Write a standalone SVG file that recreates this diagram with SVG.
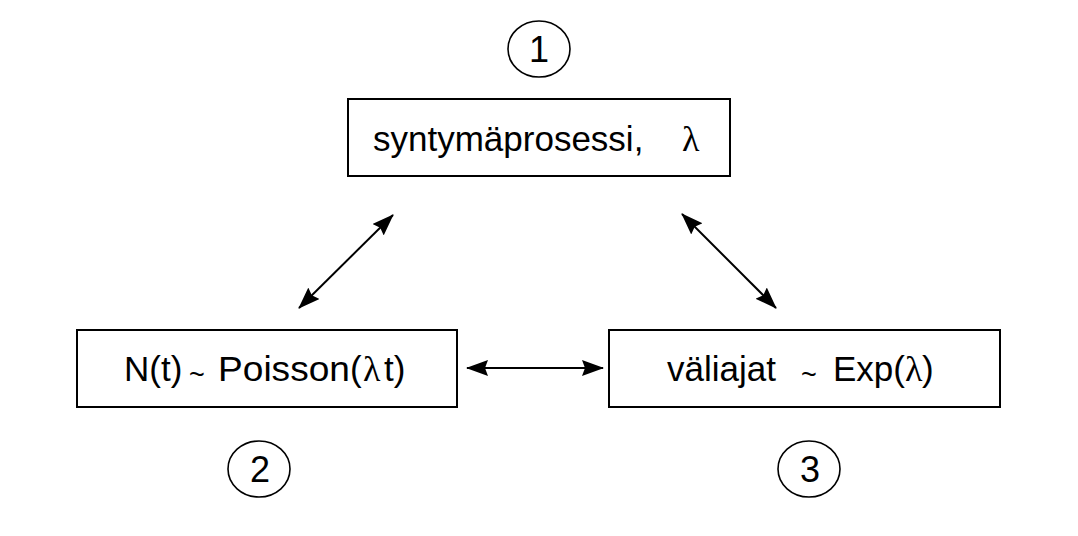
<svg xmlns="http://www.w3.org/2000/svg" width="1078" height="536" viewBox="0 0 1078 536">
<style>
.box{fill:#fff;stroke:#000;stroke-width:2}
.circ{fill:none;stroke:#000;stroke-width:1.6}
.t{font-family:"Liberation Sans",Arial,sans-serif;font-size:35px;fill:#000}
.g{font-family:"Liberation Serif","DejaVu Serif",serif;font-size:36px;fill:#000}
.num{font-family:"Liberation Sans",Arial,sans-serif;font-size:36px;fill:#000;text-anchor:middle}
.til{font-family:"Liberation Sans",Arial,sans-serif;font-size:27px;fill:#000}
.conn{stroke:#000;stroke-width:2;fill:none}
</style>
<defs>
<marker id="ah" viewBox="0 0 22 16" refX="21" refY="8" markerWidth="22" markerHeight="16" markerUnits="userSpaceOnUse" orient="auto-start-reverse">
<path d="M0,0 L22,8 L0,16 L3,8 Z" fill="#000"/>
</marker>
</defs>
<rect width="1078" height="536" fill="#fff"/>
<g id="connectors">
<line class="conn" x1="299" y1="308" x2="393" y2="215" marker-start="url(#ah)" marker-end="url(#ah)"/>
<line class="conn" x1="682" y1="214" x2="776" y2="308" marker-start="url(#ah)" marker-end="url(#ah)"/>
<line class="conn" x1="467" y1="368" x2="603" y2="368" marker-start="url(#ah)" marker-end="url(#ah)"/>
</g>
<g id="node-top">
<rect class="box" x="348" y="99" width="382" height="77"/>
<text class="t" x="373" y="151">syntymäprosessi,</text>
<text class="g" x="682" y="151">λ</text>
</g>
<g id="node-left">
<rect class="box" x="77" y="330" width="380" height="77"/>
<text class="t" x="124" y="381">N(t)</text>
<text class="til" x="189" y="384">~</text>
<text class="t" x="218" y="381" textLength="132" lengthAdjust="spacingAndGlyphs">Poisson</text>
<text class="t" x="350" y="381">(</text>
<text class="g" x="363" y="381">λ</text>
<text class="t" x="384" y="381">t)</text>
</g>
<g id="node-right">
<rect class="box" x="609" y="330" width="391" height="77"/>
<text class="t" x="667" y="381">väliajat</text>
<text class="til" x="801" y="384">~</text>
<text class="t" x="833" y="381">Exp(</text>
<text class="g" x="905" y="381">λ</text>
<text class="t" x="922" y="381">)</text>
</g>
<g id="label-1">
<ellipse class="circ" cx="539" cy="49" rx="31" ry="28"/>
<text class="num" x="539" y="62">1</text>
</g>
<g id="label-2">
<ellipse class="circ" cx="259" cy="469" rx="31" ry="28"/>
<text class="num" x="260" y="482">2</text>
</g>
<g id="label-3">
<ellipse class="circ" cx="809" cy="469" rx="31" ry="28"/>
<text class="num" x="810" y="482">3</text>
</g>
</svg>
